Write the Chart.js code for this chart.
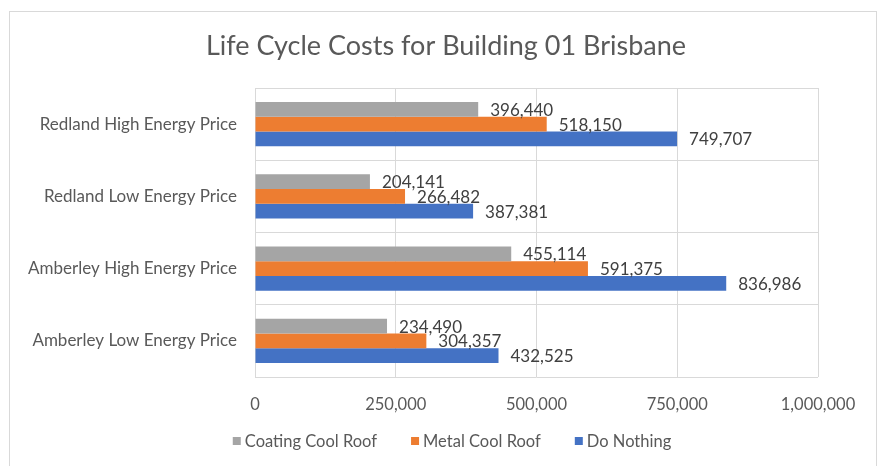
<!DOCTYPE html>
<html><head><meta charset="utf-8">
<script src="https://cdn.jsdelivr.net/npm/chart.js@4.4.0/dist/chart.umd.min.js"></script>
<style>
html,body{margin:0;padding:0;background:#fff;}
#wrap{position:relative;width:885px;height:466px;overflow:hidden;}
#frame{position:absolute;left:9px;top:11px;width:868px;height:480px;border:1px solid #d9d9d9;box-sizing:border-box;}
canvas{position:absolute;left:0;top:0;}
</style></head><body>
<div id="wrap"><div id="frame"></div><canvas id="c" width="885" height="466"></canvas></div>
<script>
const titleText = 'Life Cycle Costs for Building 01 Brisbane';
const categories = ['Redland High Energy Price', 'Redland Low Energy Price', 'Amberley High Energy Price', 'Amberley Low Energy Price'];
const seriesNames = ['Coating Cool Roof', 'Metal Cool Roof', 'Do Nothing'];
const coatingCoolRoof = [396440, 204141, 455114, 234490];
const metalCoolRoof = [518150, 266482, 591375, 304357];
const doNothing = [749707, 387381, 836986, 432525];
const tickValues = [0, 250000, 500000, 750000, 1000000];
const seriesColors = ['#A5A5A5', '#ED7D31', '#4472C4'];

const FONT = 'Lato, "Open Sans", sans-serif';
const fmt = v => v.toLocaleString('en-US');

const decorPlugin = {
  id: 'decor',
  afterDatasetsDraw(chart) {
    const ctx = chart.ctx;
    ctx.save();
    ctx.font = '17px ' + FONT;
    ctx.fillStyle = '#404040';
    ctx.textAlign = 'left';
    ctx.textBaseline = 'middle';
    chart.data.datasets.forEach((ds, di) => {
      const meta = chart.getDatasetMeta(di);
      meta.data.forEach((el, i) => {
        ctx.fillText(fmt(ds.data[i]), el.x + 12, el.y + 1);
      });
    });
    ctx.restore();
  },
  afterDraw(chart) {
    const ctx = chart.ctx;
    ctx.save();
    ctx.font = '27px ' + FONT;
    ctx.fillStyle = '#595959';
    ctx.textAlign = 'center';
    ctx.textBaseline = 'middle';
    ctx.fillText(titleText, 446, 46);
    // legend
    ctx.font = '16.5px ' + FONT;
    ctx.textAlign = 'left';
    const box = 8, gap = 4, spacing = 34;
    const items = chart.data.datasets.map(ds => ({text: ds.label, color: ds.backgroundColor, w: ctx.measureText(ds.label).width}));
    const total = items.reduce((s, it) => s + box + gap + it.w, 0) + spacing * (items.length - 1);
    let x = 452 - total / 2;
    const y = 441;
    items.forEach(it => {
      ctx.fillStyle = it.color;
      ctx.fillRect(x, y - box / 2, box, box);
      ctx.fillStyle = '#595959';
      ctx.fillText(it.text, x + box + gap, y + 1);
      x += box + gap + it.w + spacing;
    });
    ctx.restore();
  }
};

new Chart(document.getElementById('c'), {
  type: 'bar',
  data: {
    labels: categories,
    datasets: [
      {label: seriesNames[0], data: coatingCoolRoof, backgroundColor: seriesColors[0]},
      {label: seriesNames[1], data: metalCoolRoof, backgroundColor: seriesColors[1]},
      {label: seriesNames[2], data: doNothing, backgroundColor: seriesColors[2]}
    ]
  },
  options: {
    indexAxis: 'y',
    responsive: false,
    animation: false,
    events: [],
    datasets: {bar: {categoryPercentage: 0.61, barPercentage: 1.0}},
    layout: {padding: {left: 20, right: 67, top: 88, bottom: 42}},
    plugins: {legend: {display: false}, title: {display: false}, tooltip: {enabled: false}},
    scales: {
      x: {
        min: 0, max: 1000000,
        afterBuildTicks: s => { s.ticks = tickValues.map(v => ({value: v})); },
        afterFit: s => { s.height = 47; },
        ticks: {callback: v => fmt(v), font: {family: FONT, size: 16.5}, color: '#595959', padding: 18, maxRotation: 0},
        grid: {color: '#d9d9d9', drawTicks: false},
        border: {display: false}
      },
      y: {
        afterFit: s => { s.width = 235; },
        ticks: {font: {family: FONT, size: 17}, color: '#595959', padding: 18},
        grid: {color: '#d9d9d9', drawTicks: false, offset: true},
        border: {display: false}
      }
    }
  },
  plugins: [decorPlugin]
});
</script>
</body></html>
